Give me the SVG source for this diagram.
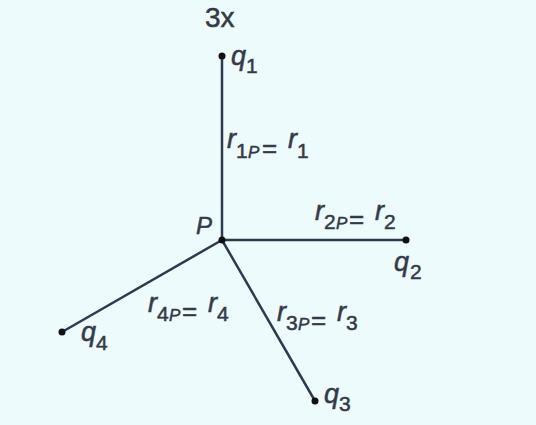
<svg xmlns="http://www.w3.org/2000/svg" width="536" height="425" viewBox="0 0 536 425">
<style>
text{font-family:"Liberation Sans",Arial,sans-serif;fill:#343a47;stroke:#343a47;stroke-width:0.5}
.m{font-size:27px;font-style:italic}
.s{font-size:21px}
.sp{font-size:17px;font-style:italic}
.eq{font-size:26px}
.ln{stroke:#2f3a4e;stroke-width:2.5;fill:none}
.dot{fill:#111}
</style>
<rect width="536" height="425" fill="#edfbfd"/>
<g id="connectors">
<line class="ln" x1="222" y1="240" x2="222" y2="56"/>
<line class="ln" x1="222" y1="240" x2="406" y2="240"/>
<line class="ln" x1="222" y1="240" x2="315" y2="401"/>
<line class="ln" x1="222" y1="240" x2="62" y2="332"/>
</g>
<g id="title"><text x="205" y="27" style="font-size:28px">3x</text></g>
<g id="P">
<circle class="dot" cx="222" cy="240" r="3.5"/>
<text x="196" y="234" style="font-size:24px;font-style:italic">P</text>
</g>
<g id="q1">
<circle class="dot" cx="222" cy="56" r="3.5"/>
<text class="m" x="231" y="65">q</text><text class="s" x="246" y="73">1</text>
</g>
<g id="q2">
<circle class="dot" cx="406" cy="240" r="3.5"/>
<text class="m" x="394" y="271">q</text><text class="s" x="410" y="279">2</text>
</g>
<g id="q3">
<circle class="dot" cx="315" cy="401" r="3.5"/>
<text class="m" x="324" y="403">q</text><text class="s" x="339" y="411">3</text>
</g>
<g id="q4">
<circle class="dot" cx="62" cy="332" r="3.5"/>
<text class="m" x="81" y="341">q</text><text class="s" x="96" y="350">4</text>
</g>
<g id="label-r1">
<text class="m" x="227" y="148">r</text><text class="s" x="236" y="158">1</text><text class="sp" x="248" y="158">P</text><text class="eq" x="262" y="157">=</text><text class="m" x="288" y="148">r</text><text class="s" x="297" y="158">1</text>
</g>
<g id="label-r2">
<text class="m" x="315" y="220">r</text><text class="s" x="324" y="229">2</text><text class="sp" x="336" y="229">P</text><text class="eq" x="349" y="228">=</text><text class="m" x="375" y="220">r</text><text class="s" x="384" y="229">2</text>
</g>
<g id="label-r3">
<text class="m" x="277" y="321">r</text><text class="s" x="286" y="330">3</text><text class="sp" x="298" y="330">P</text><text class="eq" x="311" y="329">=</text><text class="m" x="337" y="321">r</text><text class="s" x="346" y="330">3</text>
</g>
<g id="label-r4">
<text class="m" x="148" y="312">r</text><text class="s" x="157" y="321">4</text><text class="sp" x="169" y="321">P</text><text class="eq" x="182" y="320">=</text><text class="m" x="208" y="312">r</text><text class="s" x="217" y="321">4</text>
</g>
</svg>
